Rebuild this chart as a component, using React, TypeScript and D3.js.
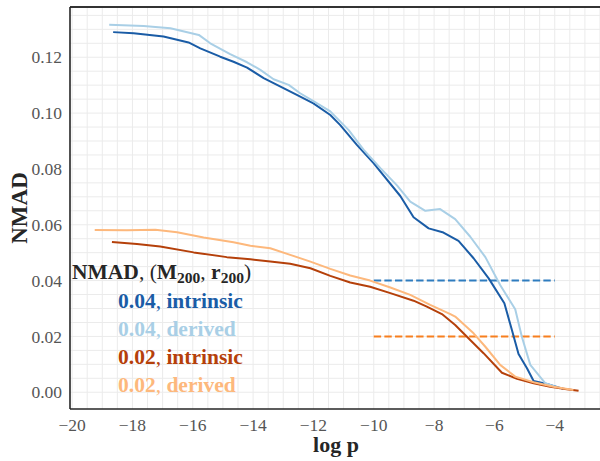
import React from "react";
import * as d3 from "d3";

// NMAD of the mass estimate against log p, for two scatter levels
const intrinsic04X = [-18.64, -17.96, -16.97, -16.14, -15.75, -15.09, -14.65, -14.2, -13.65, -12.55, -12.0, -11.44, -11.11, -10.56, -10.0, -9.12, -8.68, -8.18, -7.69, -7.19, -6.69, -6.19, -5.67, -5.42, -5.2, -4.92, -4.7, -4.26, -3.71];
const intrinsic04Y = [0.129, 0.1286, 0.1274, 0.1253, 0.1232, 0.1202, 0.1184, 0.1163, 0.1125, 0.1065, 0.1035, 0.0993, 0.0957, 0.0886, 0.082, 0.0703, 0.0627, 0.0587, 0.0572, 0.0542, 0.048, 0.0408, 0.0319, 0.0223, 0.0137, 0.0086, 0.004, 0.003, 0.0012];

const derived04X = [-18.77, -17.63, -16.74, -15.8, -15.42, -14.76, -14.2, -13.76, -13.32, -12.82, -12.44, -12.0, -11.44, -10.83, -10.34, -9.78, -9.23, -8.79, -8.29, -7.8, -7.3, -6.8, -6.3, -5.81, -5.31, -5.09, -4.81, -4.31, -3.82];
const derived04Y = [0.1316, 0.1312, 0.1304, 0.128, 0.125, 0.1211, 0.1182, 0.1155, 0.1121, 0.1101, 0.1071, 0.1043, 0.1006, 0.0939, 0.0869, 0.0803, 0.0741, 0.0683, 0.065, 0.0656, 0.062, 0.0557, 0.0484, 0.0384, 0.0297, 0.0199, 0.0098, 0.0032, 0.0014];

const intrinsic02X = [-18.68, -17.85, -17.08, -15.97, -14.87, -14.09, -13.43, -12.77, -12.1, -11.44, -10.78, -10.12, -9.45, -8.68, -8.24, -7.74, -7.3, -6.91, -6.36, -5.75, -5.25, -4.7, -4.15, -3.6, -3.21];
const intrinsic02Y = [0.0538, 0.0531, 0.0522, 0.0501, 0.0484, 0.0476, 0.0468, 0.046, 0.0444, 0.0417, 0.0393, 0.0378, 0.0355, 0.0328, 0.0307, 0.028, 0.0241, 0.0199, 0.014, 0.007, 0.0048, 0.0032, 0.002, 0.0011, 0.0005];

const derived02X = [-19.25, -18.18, -17.24, -16.52, -15.64, -14.65, -14.09, -13.43, -12.77, -12.1, -11.44, -10.78, -10.12, -9.45, -8.79, -8.13, -7.46, -7.3, -6.69, -6.3, -5.81, -5.31, -4.7, -4.04, -3.38];
const derived02Y = [0.0581, 0.058, 0.0582, 0.0573, 0.0554, 0.0537, 0.0525, 0.0516, 0.0492, 0.0468, 0.0442, 0.0418, 0.04, 0.0375, 0.0349, 0.0313, 0.028, 0.0271, 0.0211, 0.0163, 0.0098, 0.0056, 0.0036, 0.002, 0.0008];

// Reference levels drawn as dashed lines
const refLevels = [0.04, 0.02];
const refRange = [-10, -4];

const xTicks = [-20, -18, -16, -14, -12, -10, -8, -6, -4];
const yTicks = [0.0, 0.02, 0.04, 0.06, 0.08, 0.1, 0.12];

const legendEntries = [
  { value: "0.04", kind: "intrinsic" },
  { value: "0.04", kind: "derived" },
  { value: "0.02", kind: "intrinsic" },
  { value: "0.02", kind: "derived" },
];

const seriesColors = ["#1a5ca6", "#a9cfe6", "#b5400a", "#fdb87c"];
const refColors = ["#2e7cbf", "#f77f1e"];

const W = 600;
const H = 461;
const plot = { left: 70, top: 7, right: 603, bottom: 409 };
const FONT = "'Liberation Serif', 'DejaVu Serif', serif";

export default function App() {
  const x = d3.scaleLinear().domain([-20.07, -2.4]).range([plot.left, plot.right]);
  const y = d3.scaleLinear().domain([-0.006, 0.138]).range([plot.bottom, plot.top]);

  const line = d3
    .line<[number, number]>()
    .x((d) => x(d[0]))
    .y((d) => y(d[1]));

  const series = [
    d3.zip(intrinsic04X, intrinsic04Y) as [number, number][],
    d3.zip(derived04X, derived04Y) as [number, number][],
    d3.zip(intrinsic02X, intrinsic02Y) as [number, number][],
    d3.zip(derived02X, derived02Y) as [number, number][],
  ];

  const xGrid = d3.range(-20, -2.4, 0.5);
  const yGrid = d3.range(0, 0.1375, 0.005);
  const fmtY = d3.format(".2f");
  const fmtX = (v: number) => (v < 0 ? "\u2212" + Math.abs(v) : String(v));

  const legendX = 118;
  const legendY0 = 300;
  const legendStep = 28;
  const txt = { fontFamily: FONT };

  return (
    <div style={{ position: "absolute", left: 0, top: 0, width: W, height: H, overflow: "hidden" }}>
      <svg width={W} height={H} style={{ display: "block", background: "#fff" }}>
        <g>
          {xGrid.map((v) => (
            <line key={"gx" + v} x1={x(v)} x2={x(v)} y1={plot.top} y2={plot.bottom} stroke="#ebebeb" strokeWidth={1} />
          ))}
          {yGrid.map((v) => (
            <line key={"gy" + v} x1={plot.left} x2={plot.right} y1={y(v)} y2={y(v)} stroke="#ebebeb" strokeWidth={1} />
          ))}
        </g>

        {refLevels.map((lv, i) => (
          <line
            key={"ref" + i}
            x1={x(refRange[0])}
            x2={x(refRange[1])}
            y1={y(lv)}
            y2={y(lv)}
            stroke={refColors[i]}
            strokeWidth={2}
            strokeDasharray="7.4 3.2"
          />
        ))}

        {series.map((s, i) => (
          <path key={"s" + i} d={line(s) || ""} fill="none" stroke={seriesColors[i]} strokeWidth={2} strokeLinejoin="round" />
        ))}

        <line x1={plot.left} x2={W} y1={plot.top} y2={plot.top} stroke="#333" strokeWidth={1.8} />
        <line x1={plot.left} x2={plot.left} y1={plot.top} y2={plot.bottom} stroke="#262626" strokeWidth={1.6} />
        <line x1={plot.left} x2={W} y1={plot.bottom} y2={plot.bottom} stroke="#262626" strokeWidth={1.6} />

        {yTicks.map((v) => (
          <text key={"yt" + v} style={txt} x={62} y={y(v)} dy="0.35em" textAnchor="end" fontSize={17.5} fill="#555">
            {fmtY(v)}
          </text>
        ))}
        {xTicks.map((v) => (
          <text key={"xt" + v} style={txt} x={x(v)} y={431} textAnchor="middle" fontSize={17.5} fill="#555">
            {fmtX(v)}
          </text>
        ))}

        <text style={txt} x={336} y={452} textAnchor="middle" fontSize={22} fontWeight="bold" fill="#262626">
          log p
        </text>
        <text
          style={txt}
          transform={`translate(27, ${(plot.top + plot.bottom) / 2}) rotate(-90)`}
          textAnchor="middle"
          fontSize={23}
          fontWeight="bold"
          fill="#262626"
        >
          NMAD
        </text>

        <text style={txt} x={72} y={271} dy="0.35em" fontSize={21.5} fill="#262626">
          <tspan fontWeight="bold">NMAD</tspan>
          <tspan>, (</tspan>
          <tspan fontWeight="bold">M</tspan>
          <tspan fontWeight="bold" fontSize={15.5} dy={4}>200</tspan>
          <tspan dy={-4}>, </tspan>
          <tspan fontWeight="bold">r</tspan>
          <tspan fontWeight="bold" fontSize={15.5} dy={4}>200</tspan>
          <tspan dy={-4}>)</tspan>
        </text>
        {legendEntries.map((e, i) => (
          <text key={"lg" + i} style={txt} x={legendX} y={legendY0 + i * legendStep} dy="0.35em" fontSize={21.5} fill={seriesColors[i]}>
            <tspan fontWeight="bold">{e.value}</tspan>
            <tspan>, </tspan>
            <tspan fontWeight="bold">{e.kind}</tspan>
          </text>
        ))}
      </svg>
    </div>
  );
}
